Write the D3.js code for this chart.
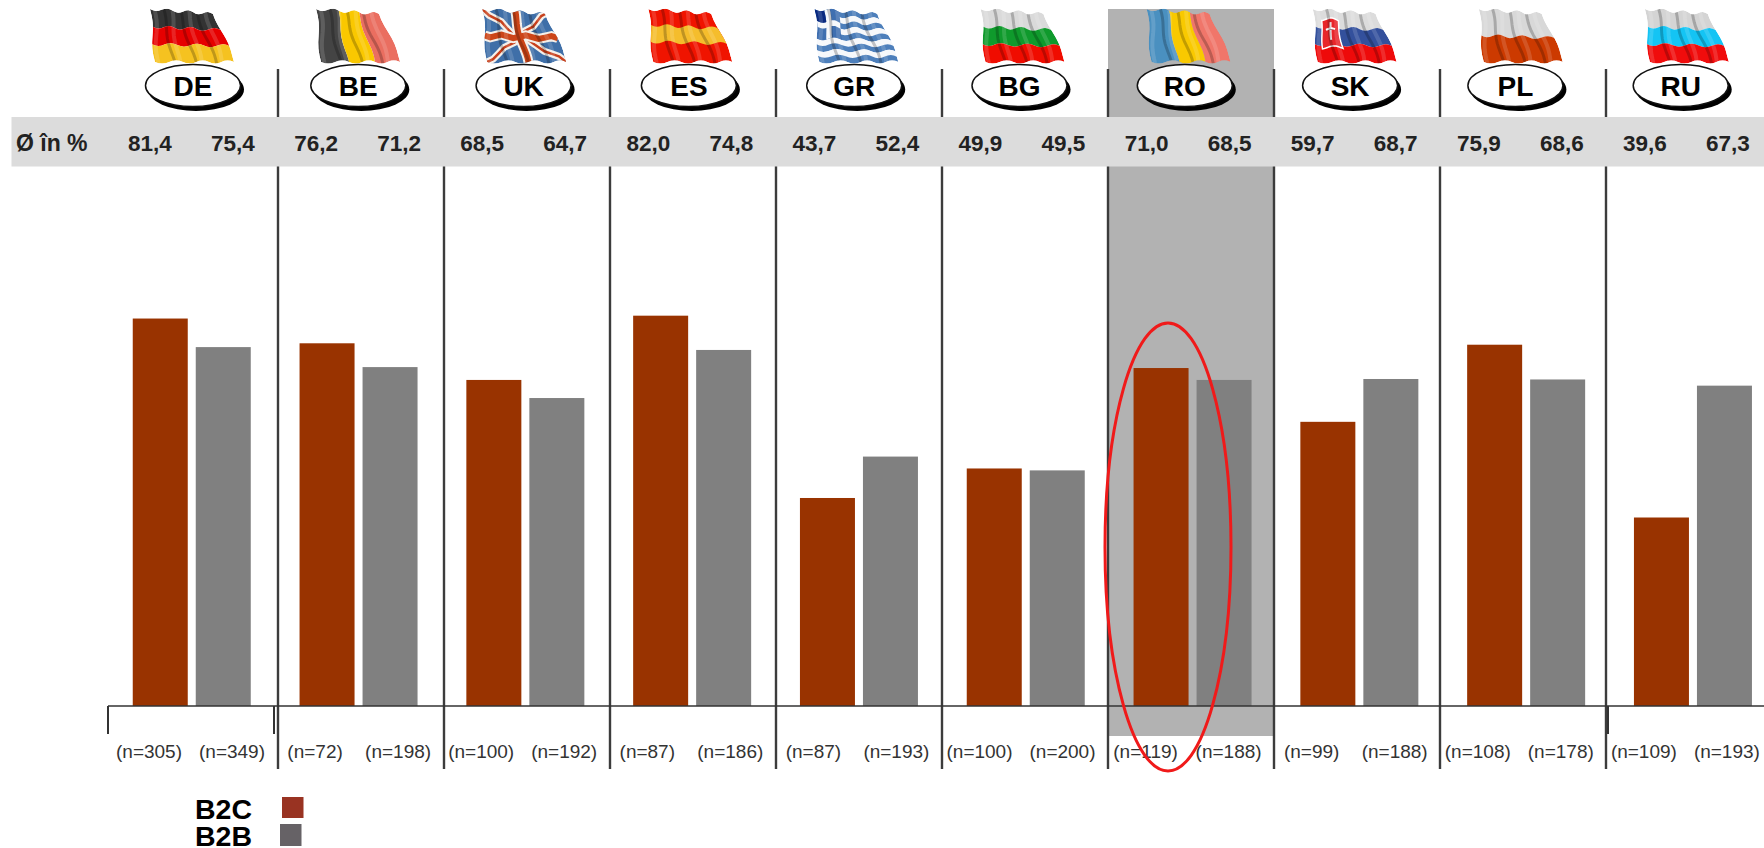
<!DOCTYPE html>
<html lang="de">
<head>
<meta charset="utf-8">
<title>B2C und B2B nach Ländern</title>
<script src="https://cdn.jsdelivr.net/npm/d3@7/dist/d3.min.js"></script>
<style>
  html, body { margin: 0; background: #fff; overflow: hidden; }
  svg { display: block; }
  text { font-family: "Liberation Sans", Arial, sans-serif; }
</style>
</head>
<body>
<svg id="chart" width="1764" height="848"></svg>
<script>
// Survey results per country
const countries = ["DE", "BE", "UK", "ES", "GR", "BG", "RO", "SK", "PL", "RU"];
const b2cValues = [81.4, 76.2, 68.5, 82.0, 43.7, 49.9, 71.0, 59.7, 75.9, 39.6];
const b2bValues = [75.4, 71.2, 64.7, 74.8, 52.4, 49.5, 68.5, 68.7, 68.6, 67.3];
const b2cCounts = [305, 72, 100, 87, 87, 100, 119, 99, 108, 109];
const b2bCounts = [349, 198, 192, 186, 193, 200, 188, 188, 178, 193];
const seriesNames = ["B2C", "B2B"];
const highlighted = "RO";

const width = 1764, height = 848;
const baseY = 706;
const svg = d3.select("#chart");

// One band scale per row of elements: each row has a slightly different pitch.
const columnX = d3.scaleBand().domain(countries).range([112, 1772]);
const barX = d3.scaleBand().domain(countries).range([132.75, 1800.75]);
const labelX = d3.scaleBand().domain(countries).range([150, 1811]);
const badgeX = d3.scaleBand().domain(countries).range([193, 1846]);
const y = d3.scaleLinear().domain([0, 100]).range([baseY, 230]);
const barWidth = 55, seriesOffset = 63, labelOffset = 83;

const fmt = d3.formatLocale({ decimal: ",", thousands: ".", grouping: [3], currency: ["", ""] }).format(".1f");

// Highlighted country panel
svg.append("rect")
  .attr("x", columnX(highlighted)).attr("y", 9)
  .attr("width", columnX.step()).attr("height", 736 - 9)
  .attr("fill", "#b2b2b2");

// Column separators
svg.append("g").selectAll("line").data(countries.slice(1)).join("line")
  .attr("x1", d => columnX(d)).attr("x2", d => columnX(d))
  .attr("y1", 69).attr("y2", 769)
  .attr("stroke", "#3c3c3c").attr("stroke-width", 2.4);

// Row with the averages
svg.append("rect").attr("x", 11.5).attr("y", 117).attr("width", width - 11.5).attr("height", 49.5).attr("fill", "#dcdcdc");
svg.append("text").attr("x", 16).attr("y", 143).attr("dy", ".35em")
  .attr("font-size", 23).attr("font-weight", "bold").attr("fill", "#222").text("Ø în %");

const avgRow = svg.append("g").attr("font-size", 22.5).attr("font-weight", "bold")
  .attr("fill", "#222").attr("text-anchor", "middle");
avgRow.selectAll(".a").data(countries).join("text").attr("class", "a")
  .attr("x", d => labelX(d)).attr("y", 143).attr("dy", ".35em")
  .text((d, i) => fmt(b2cValues[i]));
avgRow.selectAll(".b").data(countries).join("text").attr("class", "b")
  .attr("x", d => labelX(d) + labelOffset).attr("y", 143).attr("dy", ".35em")
  .text((d, i) => fmt(b2bValues[i]));

// Bars
const seriesColors = ["#993300", "#808080"];
svg.append("g").selectAll("rect").data(countries).join("rect")
  .attr("x", d => barX(d)).attr("width", barWidth)
  .attr("y", (d, i) => y(b2cValues[i]))
  .attr("height", (d, i) => baseY - y(b2cValues[i]))
  .attr("fill", seriesColors[0]);
svg.append("g").selectAll("rect").data(countries).join("rect")
  .attr("x", d => barX(d) + seriesOffset).attr("width", barWidth)
  .attr("y", (d, i) => y(b2bValues[i]))
  .attr("height", (d, i) => baseY - y(b2bValues[i]))
  .attr("fill", seriesColors[1]);

// Base line and its short end ticks
const axisG = svg.append("g").attr("stroke", "#333");
axisG.append("line").attr("x1", 108).attr("x2", width).attr("y1", baseY).attr("y2", baseY).attr("stroke-width", 1.6);
[columnX("DE") - 4, columnX("BE") - 4, columnX("RU") + 2].forEach(x => {
  axisG.append("line").attr("x1", x).attr("x2", x).attr("y1", baseY).attr("y2", 734).attr("stroke-width", 2);
});

// Sample sizes
const nRow = svg.append("g").attr("font-size", 19).attr("fill", "#333").attr("text-anchor", "middle");
nRow.selectAll(".a").data(countries).join("text").attr("class", "a")
  .attr("x", d => labelX(d) - 1).attr("y", 751).attr("dy", ".35em")
  .text((d, i) => `(n=${b2cCounts[i]})`);
nRow.selectAll(".b").data(countries).join("text").attr("class", "b")
  .attr("x", d => labelX(d) + labelOffset - 1).attr("y", 751).attr("dy", ".35em")
  .text((d, i) => `(n=${b2bCounts[i]})`);

// Waving flags: a unit square is bent into the flag's cloth.
function clothPoint(u, v) {
  const left = 0 + v * 5, right = 64 + v * 21;
  const top = 0 + u * 5, bottom = 53;
  const wave = Math.sin(u * Math.PI * 6) * 1.6;
  const yy = top + (bottom - top) * v + wave;
  const xx = left + (right - left) * u + Math.sin(v * Math.PI * 2 + u * 4) * 1.4;
  return [xx, yy];
}
function patch(u0, u1, v0, v1) {
  const pts = [];
  const n = 24, m = 8;
  for (let i = 0; i <= n; i++) pts.push(clothPoint(u0 + (u1 - u0) * i / n, v0));
  for (let j = 1; j <= m; j++) pts.push(clothPoint(u1, v0 + (v1 - v0) * j / m));
  for (let i = n - 1; i >= 0; i--) pts.push(clothPoint(u0 + (u1 - u0) * i / n, v1));
  for (let j = m - 1; j > 0; j--) pts.push(clothPoint(u0, v0 + (v1 - v0) * j / m));
  return "M" + pts.map(p => p.join(",")).join("L") + "Z";
}
function clothLine(u0, v0, u1, v1) {
  const pts = d3.range(0, 13).map(k => clothPoint(u0 + (u1 - u0) * k / 12, v0 + (v1 - v0) * k / 12));
  return d3.line()(pts);
}
const horizontal = cols => g => cols.forEach((c, i) =>
  g.append("path").attr("d", patch(0, 1, i / cols.length, (i + 1) / cols.length)).attr("fill", c));
const vertical = cols => g => cols.forEach((c, i) =>
  g.append("path").attr("d", patch(i / cols.length, (i + 1) / cols.length, 0, 1)).attr("fill", c));

const flagPainters = {
  DE: horizontal(["#333333", "#e60000", "#f5c220"]),
  BE: vertical(["#444444", "#fac800", "#ea6e60"]),
  UK: g => {
    g.append("path").attr("d", patch(0, 1, 0, 1)).attr("fill", "#3f6fa8");
    const stroke = (d, c, w) => g.append("path").attr("d", d).attr("fill", "none").attr("stroke", c).attr("stroke-width", w);
    [clothLine(0, 0, 1, 1), clothLine(1, 0, 0, 1)].forEach(d => stroke(d, "#f4efe9", 7));
    [clothLine(0, 0, 1, 1), clothLine(1, 0, 0, 1)].forEach(d => stroke(d, "#c8401c", 2.5));
    [clothLine(.5, 0, .5, 1), clothLine(0, .5, 1, .5)].forEach(d => stroke(d, "#f4efe9", 10));
    [clothLine(.5, 0, .5, 1), clothLine(0, .5, 1, .5)].forEach(d => stroke(d, "#cc4518", 6));
  },
  ES: g => {
    g.append("path").attr("d", patch(0, 1, 0, 1)).attr("fill", "#f01400");
    g.append("path").attr("d", patch(0, 1, .3, .62)).attr("fill", "#f5bd2c");
  },
  GR: g => {
    d3.range(9).forEach(i =>
      g.append("path").attr("d", patch(0, 1, i / 9, (i + 1) / 9)).attr("fill", i % 2 ? "#f6f8fb" : "#4d7fbb"));
    g.append("path").attr("d", patch(0, .36, 0, 5 / 9)).attr("fill", "#3f6fb0");
    g.append("path").attr("d", patch(.14, .22, 0, 5 / 9)).attr("fill", "#f6f8fb");
    g.append("path").attr("d", patch(0, .36, 2 / 9, 3 / 9)).attr("fill", "#f6f8fb");
    g.append("path").attr("d", patch(0, .14, 0, 2 / 9)).attr("fill", "#0a2a80");
  },
  BG: horizontal(["#dadada", "#0f9a2c", "#f00c00"]),
  RO: vertical(["#4a90c0", "#f9c900", "#f0766a"]),
  SK: g => {
    horizontal(["#dcdcdc", "#33509c", "#ee0a0a"])(g);
    g.append("path").attr("d", patch(.1, .36, .18, .72)).attr("fill", "#e8262a").attr("stroke", "#fff").attr("stroke-width", 1.5);
    g.append("path").attr("d", clothLine(.23, .26, .23, .6)).attr("stroke", "#fff").attr("stroke-width", 2);
    g.append("path").attr("d", clothLine(.16, .38, .3, .38)).attr("stroke", "#fff").attr("stroke-width", 2);
  },
  PL: horizontal(["#d8d8d8", "#cc3a00"]),
  RU: horizontal(["#d4d4d4", "#14c4f4", "#f00c0c"])
};

// Darker folds running through the cloth
const folds = [.07, .2, .33, .47, .6, .74, .87];
const defs = svg.append("defs");
defs.append("clipPath").attr("id", "cloth").append("path").attr("d", patch(0, 1, 0, 1));

const flags = svg.append("g").selectAll("g").data(countries).join("g")
  .attr("transform", d => `translate(${labelX(d)},9)`);
flags.each(function (code) {
  const outer = d3.select(this).append("g").attr("clip-path", "url(#cloth)");
  flagPainters[code](outer);
  folds.forEach((u, i) => {
    outer.append("path")
      .attr("d", clothLine(u, 0, u + (i % 2 ? .03 : -.03), 1))
      .attr("fill", "none")
      .attr("stroke", i % 2 ? "#000" : "#fff")
      .attr("stroke-opacity", i % 2 ? .22 : .14)
      .attr("stroke-width", i % 2 ? 3 : 4);
  });
});

// Country badges
const badges = svg.append("g").selectAll("g").data(countries).join("g")
  .attr("transform", d => `translate(${badgeX(d)},85.5)`);
badges.append("ellipse").attr("cx", 3).attr("cy", 4).attr("rx", 48).attr("ry", 21.5).attr("fill", "#000");
badges.append("ellipse").attr("rx", 47.5).attr("ry", 21).attr("fill", "#fff").attr("stroke", "#111").attr("stroke-width", 1.5);
badges.append("text").attr("text-anchor", "middle").attr("y", 0.5).attr("dy", ".36em")
  .attr("font-size", 28).attr("font-weight", "bold").attr("fill", "#000").text(d => d);

// Red ring around the highlighted country
svg.append("ellipse")
  .attr("cx", columnX(highlighted) + columnX.step() / 2 - 23).attr("cy", 547)
  .attr("rx", 63).attr("ry", 224)
  .attr("fill", "none").attr("stroke", "#f01a1a").attr("stroke-width", 3);

// Legend
const legendColors = ["#993322", "#666266"];
const legend = svg.append("g").selectAll("g").data(seriesNames).join("g");
legend.append("text").attr("x", 195).attr("y", (d, i) => 809 + i * 27).attr("dy", ".36em")
  .attr("font-size", 28.5).attr("font-weight", "bold").attr("fill", "#000").text(d => d);
legend.append("rect")
  .attr("x", (d, i) => 282 - i * 2).attr("y", (d, i) => 797 + i * 27)
  .attr("width", 21.5).attr("height", (d, i) => 21 + i)
  .attr("fill", (d, i) => legendColors[i]);
</script>
</body>
</html>
